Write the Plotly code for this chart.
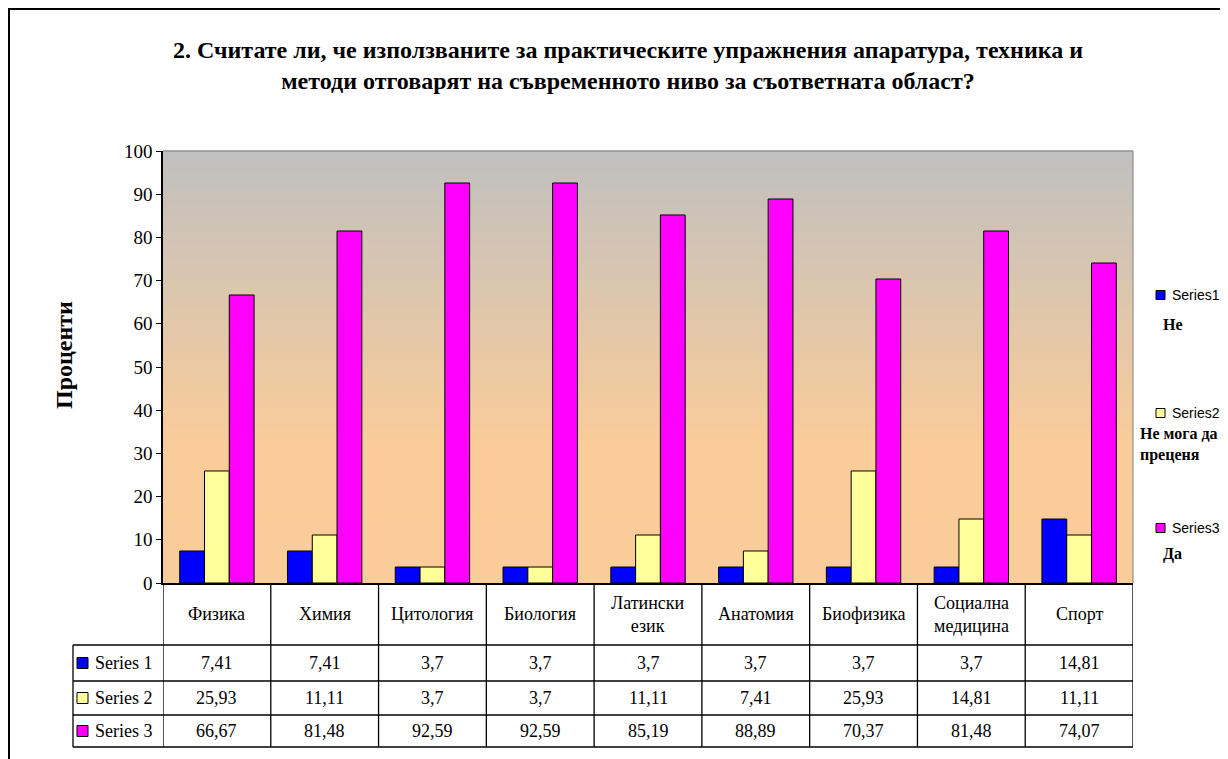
import plotly.graph_objects as go

categories = ["Физика", "Химия", "Цитология", "Биология", "Латински<br>език",
              "Анатомия", "Биофизика", "Социална<br>медицина", "Спорт"]
series_names = ["Series1", "Series2", "Series3"]
answer_labels = ["Не", "Не мога да<br>преценя", "Да"]
s1 = [7.41, 7.41, 3.7, 3.7, 3.7, 3.7, 3.7, 3.7, 14.81]
s2 = [25.93, 11.11, 3.7, 3.7, 11.11, 7.41, 25.93, 14.81, 11.11]
s3 = [66.67, 81.48, 92.59, 92.59, 85.19, 88.89, 70.37, 81.48, 74.07]
values = [s1, s2, s3]
colors = ["#0000FF", "#FFFF99", "#FF00FF"]
title_text = ("2. Считате ли, че използваните за практическите упражнения апаратура, техника и"
              "<br>методи отговарят на съвременното ниво за съответната област?")
ytitle = "Проценти"

OFF = 8  # page body margin
W, H = 1228 - OFF, 759 - OFF
# layout in screen pixels
L, R, T, B = 163, 1133, 151, 583
PW, PH = R - L, B - T


def px(x):
    return (x - L) / PW


def py(y):
    return (B - y) / PH


SERIF = "Liberation Serif, Times New Roman, serif"
SANS = "Liberation Sans, Arial, sans-serif"

fig = go.Figure()
for i in range(3):
    fig.add_trace(go.Bar(
        x=list(range(len(categories))), y=values[i], name=series_names[i],
        marker=dict(color=colors[i], line=dict(color="black", width=1)),
        showlegend=False,
    ))

shapes = []
# gradient background
N = 80
top = (192, 192, 192)
bot = (250, 204, 153)
for k in range(N):
    f0 = k / N
    f1 = (k + 1) / N
    fm = (f0 + f1) / 2
    t = min(1.0, (1 - fm) / 0.68)
    c = tuple(round(top[j] + (bot[j] - top[j]) * t) for j in range(3))
    shapes.append(dict(type="rect", xref="paper", yref="paper", x0=0, x1=1,
                       y0=f0, y1=f1 + 0.002, line=dict(width=0),
                       fillcolor="rgb(%d,%d,%d)" % c, layer="below"))
shapes.append(dict(type="line", xref="paper", yref="paper", x0=0, x1=1, y0=1, y1=1,
                   line=dict(color="#808080", width=1)))
shapes.append(dict(type="line", xref="paper", yref="paper", x0=1, x1=1, y0=0, y1=1,
                   line=dict(color="#808080", width=1)))

# data table grid
row_lines = [645, 681, 715, 747]
n = len(categories)
for k in range(n + 1):
    shapes.append(dict(type="line", xref="x", yref="paper", x0=k - 0.5, x1=k - 0.5,
                       y0=py(583), y1=py(747), line=dict(color="black", width=1.3)))
shapes.append(dict(type="line", xref="paper", yref="paper", x0=px(73), x1=px(73),
                   y0=py(645), y1=py(747), line=dict(color="black", width=1.3)))
for yy in row_lines:
    shapes.append(dict(type="line", xref="paper", yref="paper", x0=px(73), x1=1,
                       y0=py(yy), y1=py(yy), line=dict(color="black", width=1.3)))

# outer chart border
shapes.append(dict(type="rect", xref="paper", yref="paper", x0=px(9), x1=px(1300),
                   y0=py(800), y1=py(9), line=dict(color="black", width=2)))

annotations = []
TFS = 18
for k, c in enumerate(categories):
    annotations.append(dict(x=k, y=py(614), xref="x", yref="paper", text=c,
                            showarrow=False, font=dict(family=SERIF, size=TFS, color="black"),
                            xanchor="center", yanchor="middle"))
row_centers = [663, 698, 731]
for i in range(3):
    yc = py(row_centers[i])
    for k, v in enumerate(values[i]):
        annotations.append(dict(x=k, y=yc, xref="x", yref="paper",
                                text=("%g" % v).replace(".", ","), showarrow=False,
                                font=dict(family=SERIF, size=TFS, color="black"),
                                xanchor="center", yanchor="middle"))
    shapes.append(dict(type="rect", xref="paper", yref="paper", x0=px(77), x1=px(88),
                       y0=py(row_centers[i] + 5.5), y1=py(row_centers[i] - 5.5),
                       fillcolor=colors[i], line=dict(color="black", width=1)))
    annotations.append(dict(x=px(93), y=yc, xref="paper", yref="paper",
                            text=series_names[i].replace("Series", "Series "), showarrow=False,
                            font=dict(family=SERIF, size=TFS, color="black"),
                            xanchor="left", yanchor="middle"))

# y-axis title
annotations.append(dict(x=px(64), y=py(355), xref="paper", yref="paper",
                        text="<b>%s</b>" % ytitle, textangle=-90, showarrow=False,
                        font=dict(family=SERIF, size=24, color="black"),
                        xanchor="center", yanchor="middle"))

# manual legend
leg_y = [295, 413, 528]
for i in range(3):
    shapes.append(dict(type="rect", xref="paper", yref="paper", x0=px(1156), x1=px(1165),
                       y0=py(leg_y[i] + 4.5), y1=py(leg_y[i] - 4.5),
                       fillcolor=colors[i], line=dict(color="black", width=1)))
    annotations.append(dict(x=px(1170), y=py(leg_y[i]), xref="paper", yref="paper",
                            text=series_names[i], showarrow=False,
                            font=dict(family=SANS, size=14, color="black"),
                            xanchor="left", yanchor="middle"))
ans_pos = [(1161, 324), (1138, 444), (1161, 554)]
for (xa, ya), lab in zip(ans_pos, answer_labels):
    annotations.append(dict(x=px(xa), y=py(ya), xref="paper", yref="paper",
                            text="<b>%s</b>" % lab, showarrow=False, align="left",
                            font=dict(family=SERIF, size=16, color="black"),
                            xanchor="left", yanchor="middle"))

fig.update_layout(
    width=W, height=H,
    margin=dict(l=L - OFF, r=W - (R - OFF), t=T - OFF, b=H - (B - OFF), autoexpand=False),
    paper_bgcolor="white", plot_bgcolor="rgba(0,0,0,0)",
    barmode="group", bargap=0.31, bargroupgap=0,
    title=dict(text="<b>%s</b>" % title_text, x=px(628), xref="paper", xanchor="center",
               y=1 - (58 - OFF) / H, yanchor="middle",
               font=dict(family=SERIF, size=24, color="black")),
    xaxis=dict(range=[-0.5, n - 0.5], showticklabels=False, ticks="", showgrid=False,
               showline=True, linecolor="black", linewidth=1.5, zeroline=False),
    yaxis=dict(range=[0, 100], dtick=10, ticks="outside", ticklen=5, tickcolor="black",
               showgrid=False, showline=True, linecolor="black", linewidth=1.5,
               zeroline=False, tickfont=dict(family=SERIF, size=19, color="black")),
    showlegend=False,
    shapes=shapes, annotations=annotations,
)

fig.write_html("out.html")
